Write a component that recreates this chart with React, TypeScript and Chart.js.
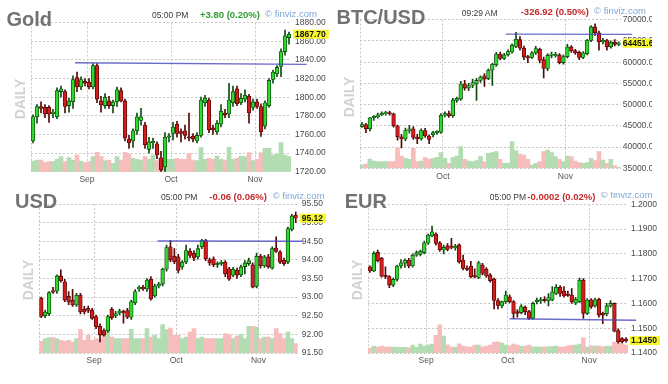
import React, { useEffect, useRef } from 'react';
import { Chart, registerables } from 'chart.js';

Chart.register(...registerables);

const FONT = "'Liberation Sans', Arial, Helvetica, sans-serif";
Chart.defaults.font.family = FONT;

// ---------------- Gold (daily OHLC, volume) ----------------
const goldOHLC: number[][] = [
  [1753, 1781, 1751, 1779], [1779, 1792, 1772, 1790], [1790, 1795, 1783, 1788], [1789, 1792, 1778, 1782],
  [1789, 1791, 1773, 1782], [1782, 1787, 1778, 1784], [1779, 1810, 1777, 1807], [1806, 1812, 1800, 1809],
  [1806, 1808, 1783, 1790], [1791, 1799, 1784, 1796], [1795, 1823, 1788, 1819], [1821, 1827, 1806, 1811],
  [1811, 1822, 1808, 1819], [1817, 1820, 1812, 1815], [1816, 1820, 1809, 1811], [1811, 1836, 1809, 1834],
  [1834, 1836, 1794, 1798], [1796, 1801, 1784, 1792], [1791, 1804, 1788, 1800], [1796, 1801, 1788, 1791],
  [1791, 1797, 1783, 1795], [1795, 1811, 1790, 1808], [1807, 1810, 1795, 1796], [1796, 1798, 1753, 1756],
  [1755, 1759, 1745, 1751], [1753, 1766, 1746, 1764], [1764, 1783, 1760, 1779], [1775, 1788, 1770, 1779],
  [1770, 1773, 1745, 1749], [1744, 1757, 1740, 1752], [1751, 1756, 1745, 1752], [1750, 1752, 1734, 1738],
  [1735, 1742, 1720, 1722], [1725, 1762, 1720, 1757], [1757, 1761, 1752, 1758], [1761, 1773, 1754, 1768],
  [1771, 1774, 1757, 1761], [1763, 1766, 1752, 1761], [1764, 1770, 1755, 1759], [1757, 1783, 1753, 1756],
  [1758, 1761, 1752, 1755], [1753, 1762, 1751, 1759], [1759, 1800, 1757, 1797], [1794, 1802, 1790, 1799],
  [1797, 1799, 1762, 1765], [1767, 1770, 1760, 1765], [1763, 1775, 1760, 1772], [1771, 1792, 1768, 1785],
  [1783, 1787, 1778, 1781], [1782, 1815, 1778, 1797], [1794, 1812, 1790, 1806], [1809, 1812, 1791, 1793],
  [1794, 1804, 1792, 1799], [1798, 1808, 1795, 1802], [1801, 1803, 1772, 1783], [1789, 1798, 1786, 1795],
  [1795, 1798, 1788, 1790], [1790, 1793, 1758, 1763], [1769, 1796, 1766, 1794], [1791, 1820, 1789, 1818],
  [1819, 1829, 1815, 1827], [1825, 1834, 1822, 1832], [1833, 1852, 1822, 1849], [1849, 1872, 1845, 1866],
  [1864, 1870, 1857, 1867.7],
];
const goldVolume = [
  107, 117, 117, 90, 100, 100, 123, 150, 100, 140, 117, 167, 107, 90, 100, 150, 193, 150, 110, 117,
  83, 150, 117, 193, 177, 133, 123, 117, 150, 123, 167, 110, 133, 123, 123, 123, 133, 123, 123, 183,
  117, 110, 240, 123, 133, 123, 157, 123, 117, 243, 123, 133, 157, 150, 190, 110, 123, 190, 233, 233,
  167, 177, 290, 167, 150,
];
const goldMonths = [{ index: 14, label: 'Sep' }, { index: 35, label: 'Oct' }, { index: 56, label: 'Nov' }];
const goldAxis = { min: 1720, max: 1880, step: 20, decimals: 2 };
const goldLevel = { fromIndex: 10.5, toIndex: 68.4, fromValue: 1837, toValue: 1835.3 };
const goldLast = 1867.7;

// ---------------- BTC/USD ----------------
const btcOHLC: number[][] = [
  [44800, 45800, 44600, 45300], [45300, 45600, 43400, 44300], [44300, 47000, 43800, 46900], [46900, 47400, 46300, 47100],
  [47100, 48000, 46800, 47600], [47600, 48300, 47400, 47900], [47900, 48400, 47500, 48100], [48100, 48500, 47500, 47800],
  [47800, 48000, 44700, 45000], [45000, 45200, 41600, 42400], [42400, 43000, 39800, 41900], [41900, 44500, 41500, 43900],
  [43900, 45100, 43300, 44300], [44300, 44800, 41800, 42300], [42300, 43000, 40800, 41900], [41900, 44300, 41600, 43900],
  [43900, 44400, 42300, 42600], [42600, 42900, 40800, 41800], [42900, 43700, 42400, 43400], [43400, 43900, 43000, 43700],
  [43500, 47900, 43200, 47500], [47500, 48300, 47100, 47900], [47900, 48500, 47000, 47400], [47400, 51500, 47000, 51100],
  [51000, 51800, 50500, 51500], [51300, 55500, 51000, 54900], [54900, 55700, 53400, 53900], [53900, 55000, 53300, 54500],
  [54500, 56000, 54000, 55200], [54900, 56200, 51000, 55700], [55700, 56800, 55200, 56500], [56800, 57300, 54300, 56000],
  [56100, 58400, 55900, 58100], [58100, 59700, 54500, 59500], [59400, 62300, 59000, 61900], [61900, 62400, 60500, 60900],
  [60900, 62100, 60600, 61700], [61700, 62900, 61400, 62500], [62400, 64300, 62100, 64000], [63700, 67000, 63400, 65400],
  [65300, 66000, 62800, 63300], [63300, 63800, 60600, 61200], [61200, 61600, 59900, 61000], [61100, 62500, 60800, 62200],
  [62200, 63700, 61800, 63200], [63000, 63300, 59800, 60400], [60600, 61200, 56300, 58500], [58500, 62000, 58000, 61600],
  [61600, 62400, 61000, 61800], [61500, 62300, 61200, 61700], [61700, 62000, 59600, 59900], [59900, 61700, 59500, 61300],
  [61300, 64200, 61000, 63600], [63600, 63900, 62300, 62700], [62700, 63000, 61800, 62200], [62300, 62600, 60600, 61100],
  [61100, 62500, 60800, 62200], [62000, 65400, 61700, 65100], [65100, 68600, 64800, 68300], [68300, 69000, 66300, 66900],
  [66900, 67300, 62800, 64800], [64800, 65600, 64300, 65100], [65100, 65400, 62800, 63600], [63600, 65000, 63300, 64700],
  [64700, 65300, 63800, 64200], [64200, 64800, 63900, 64451.6],
];
const btcVolume = [
  33, 43, 93, 73, 67, 67, 67, 67, 67, 207, 123, 100, 90, 200, 67, 73, 107, 90, 100, 110,
  157, 100, 50, 107, 123, 217, 90, 73, 67, 77, 117, 67, 150, 157, 167, 90, 50, 50, 267, 177,
  143, 133, 90, 33, 50, 67, 167, 183, 157, 117, 90, 67, 123, 117, 73, 57, 50, 57, 100, 77,
  167, 83, 50, 90, 27, 10,
];
const btcMonths = [{ index: 21, label: 'Oct' }, { index: 52, label: 'Nov' }];
const btcAxis = { min: 35000, max: 70000, step: 5000, decimals: 2 };
const btcLevel = { fromIndex: 36.4, toIndex: 68.4, fromValue: 66600, toValue: 66550 };
const btcLast = 64451.6;

// ---------------- USD index ----------------
const usdOHLC: number[][] = [
  [92.97, 93.0, 92.45, 92.48], [92.5, 92.65, 92.45, 92.6], [92.55, 93.15, 92.5, 93.12], [93.15, 93.26, 93.1, 93.13],
  [93.16, 93.6, 93.1, 93.57], [93.57, 93.73, 93.4, 93.44], [93.41, 93.48, 92.88, 92.92], [93.02, 93.15, 92.8, 92.87],
  [92.92, 93.21, 92.75, 92.79], [92.79, 93.1, 92.75, 93.05], [93.05, 93.1, 92.55, 92.6], [92.67, 92.75, 92.55, 92.6],
  [92.7, 92.76, 92.58, 92.64], [92.65, 92.7, 92.4, 92.43], [92.48, 92.52, 92.15, 92.2], [92.22, 92.28, 91.8, 91.98],
  [92.1, 92.15, 91.95, 91.98], [92.1, 92.52, 92.05, 92.48], [92.67, 92.72, 92.4, 92.45], [92.5, 92.62, 92.45, 92.56],
  [92.57, 92.68, 92.52, 92.63], [92.61, 92.65, 92.3, 92.58], [92.64, 92.7, 92.42, 92.46], [92.46, 92.92, 92.4, 92.88],
  [92.85, 93.2, 92.8, 93.15], [93.22, 93.3, 93.15, 93.27], [93.27, 93.32, 93.18, 93.22], [93.22, 93.5, 93.15, 93.46],
  [93.48, 93.55, 92.92, 92.95], [93.03, 93.35, 93.0, 93.3], [93.3, 93.4, 93.25, 93.35], [93.35, 93.78, 93.3, 93.75],
  [93.75, 94.4, 93.7, 94.33], [94.35, 94.52, 93.95, 94.0], [94.1, 94.3, 93.9, 93.95], [94.08, 94.15, 93.65, 93.72],
  [93.81, 93.98, 93.75, 93.94], [93.94, 94.4, 93.9, 94.25], [94.23, 94.3, 94.05, 94.12], [94.18, 94.25, 93.98, 94.05],
  [94.08, 94.4, 94.02, 94.3], [94.35, 94.55, 94.3, 94.52], [94.52, 94.55, 93.98, 94.03], [94.0, 94.05, 93.85, 93.92],
  [94.03, 94.08, 93.82, 93.87], [93.87, 93.95, 93.8, 93.9], [93.9, 93.98, 93.85, 93.94], [93.94, 93.98, 93.55, 93.63],
  [93.76, 93.8, 93.45, 93.48], [93.59, 93.8, 93.55, 93.75], [93.72, 93.78, 93.5, 93.59], [93.6, 93.86, 93.55, 93.81],
  [93.82, 93.98, 93.62, 93.92], [93.9, 94.05, 93.85, 93.98], [93.87, 93.92, 93.25, 93.27], [93.29, 94.18, 93.25, 94.1],
  [94.1, 94.15, 93.78, 93.84], [93.84, 94.12, 93.8, 94.08], [94.08, 94.15, 93.78, 93.82], [93.78, 94.35, 93.75, 94.3],
  [94.32, 94.62, 94.2, 94.23], [94.21, 94.25, 93.9, 93.94], [93.99, 94.05, 93.85, 93.9], [93.94, 94.88, 93.9, 94.84],
  [94.82, 95.22, 94.78, 95.18], [95.2, 95.28, 95.0, 95.12],
];
const usdVolume = [
  117, 143, 153, 153, 143, 127, 117, 127, 110, 143, 233, 127, 177, 127, 143, 137, 217, 243, 160, 143,
  143, 143, 143, 237, 143, 143, 143, 243, 160, 177, 143, 283, 233, 250, 177, 177, 143, 160, 210, 243,
  143, 160, 143, 143, 143, 143, 143, 193, 183, 143, 170, 183, 143, 267, 267, 260, 143, 160, 160, 143,
  243, 193, 143, 210, 143, 93,
];
const usdMonths = [{ index: 14, label: 'Sep' }, { index: 35, label: 'Oct' }, { index: 56, label: 'Nov' }];
const usdAxis = { min: 91.5, max: 95.5, step: 0.5, decimals: 2 };
const usdLevel = { fromIndex: 29.7, toIndex: 66.8, fromValue: 94.507, toValue: 94.498 };
const usdLast = 95.12;

// ---------------- EUR ----------------
const eurOHLC: number[][] = [
  [1.1748, 1.1752, 1.1725, 1.1731], [1.1731, 1.1809, 1.1728, 1.1802], [1.1806, 1.1815, 1.1768, 1.1772], [1.1782, 1.1786, 1.1706, 1.171],
  [1.1713, 1.1748, 1.17, 1.1708], [1.1708, 1.1712, 1.1664, 1.1674], [1.1674, 1.1702, 1.1668, 1.1697], [1.1697, 1.1755, 1.169, 1.1751],
  [1.1751, 1.1777, 1.1742, 1.1764], [1.1762, 1.178, 1.1745, 1.1775], [1.1775, 1.1782, 1.1743, 1.1751], [1.1751, 1.18, 1.1746, 1.1795],
  [1.1795, 1.1812, 1.179, 1.1805], [1.1798, 1.1815, 1.1792, 1.1811], [1.1805, 1.1852, 1.18, 1.1845], [1.1843, 1.188, 1.1838, 1.1876],
  [1.1872, 1.1912, 1.1868, 1.1889], [1.188, 1.1885, 1.1835, 1.1842], [1.1845, 1.185, 1.181, 1.1816], [1.1816, 1.1835, 1.18, 1.1826],
  [1.1832, 1.1842, 1.1812, 1.1818], [1.1832, 1.1863, 1.182, 1.1826], [1.1824, 1.1838, 1.1815, 1.183], [1.1836, 1.184, 1.1762, 1.1768],
  [1.1775, 1.1795, 1.1735, 1.1741], [1.1741, 1.1752, 1.1732, 1.1737], [1.1751, 1.177, 1.1703, 1.1708], [1.171, 1.174, 1.1703, 1.1707],
  [1.1705, 1.177, 1.17, 1.1764], [1.1755, 1.1762, 1.1715, 1.1721], [1.1738, 1.1745, 1.1705, 1.1711], [1.1715, 1.172, 1.1686, 1.1692],
  [1.1698, 1.1702, 1.1578, 1.1612], [1.1612, 1.162, 1.1578, 1.1592], [1.159, 1.161, 1.1582, 1.1607], [1.1607, 1.165, 1.16, 1.1634],
  [1.1627, 1.1635, 1.1602, 1.1607], [1.1607, 1.1612, 1.154, 1.156], [1.1567, 1.1575, 1.1545, 1.156], [1.1563, 1.1595, 1.1558, 1.1587],
  [1.1584, 1.159, 1.1555, 1.1567], [1.1567, 1.1572, 1.1535, 1.154], [1.154, 1.1605, 1.1536, 1.16], [1.1607, 1.1622, 1.1598, 1.1612],
  [1.161, 1.1625, 1.16, 1.1615], [1.1615, 1.1628, 1.1605, 1.1611], [1.1611, 1.164, 1.159, 1.1624], [1.1614, 1.1668, 1.161, 1.1647],
  [1.164, 1.1676, 1.1635, 1.1665], [1.1665, 1.1672, 1.1628, 1.164], [1.165, 1.1668, 1.1625, 1.163], [1.1638, 1.165, 1.1628, 1.1632],
  [1.1634, 1.166, 1.16, 1.1607], [1.1602, 1.1625, 1.1595, 1.1617], [1.1607, 1.1702, 1.1603, 1.1694], [1.1694, 1.17, 1.154, 1.156],
  [1.156, 1.162, 1.1555, 1.1614], [1.1615, 1.162, 1.158, 1.1586], [1.159, 1.1622, 1.1585, 1.1615], [1.1617, 1.1622, 1.1545, 1.1553],
  [1.156, 1.1565, 1.1518, 1.1553], [1.1558, 1.16, 1.155, 1.159], [1.159, 1.1612, 1.1585, 1.16], [1.16, 1.1602, 1.1485, 1.1488],
  [1.149, 1.1498, 1.144, 1.1445], [1.1458, 1.1462, 1.144, 1.1446], [1.1456, 1.1462, 1.1444, 1.145],
];
const eurVolume = [
  50, 70, 60, 70, 60, 60, 60, 57, 57, 57, 53, 80, 57, 90, 70, 80, 90, 177, 283, 170,
  83, 60, 60, 93, 70, 63, 60, 80, 80, 63, 70, 80, 110, 113, 100, 80, 73, 90, 80, 67,
  70, 80, 63, 63, 60, 63, 63, 67, 70, 60, 63, 73, 77, 80, 90, 153, 60, 73, 70, 73,
  63, 67, 70, 110, 100, 90, 80,
];
const eurMonths = [{ index: 15, label: 'Sep' }, { index: 36, label: 'Oct' }, { index: 57, label: 'Nov' }];
const eurAxis = { min: 1.14, max: 1.2, step: 0.01, decimals: 4 };
const eurLevel = { fromIndex: 36.0, toIndex: 68.6, fromValue: 1.15383, toValue: 1.15319 };
const eurLast = 1.145;

// ---------------- styles ----------------
const UP_FILL = '#2fd82f';
const UP_EDGE = '#114a11';
const DN_FILL = '#d41c1c';
const DN_EDGE = '#560808';
const VOL_UP = '#b2ddb2';
const VOL_DN = '#f7bdbd';
const GRID = '#c6c6c6';
const LEVEL = 'rgba(70, 70, 190, 0.8)';
const VOLUME_SCALE_MAX = 1490;

interface Level { fromIndex: number; toIndex: number; fromValue: number; toValue: number }
interface Panel {
  title: string; time: string; change: string; changeColor: string;
  ohlc: number[][]; volume: number[]; months: { index: number; label: string }[];
  axis: { min: number; max: number; step: number; decimals: number };
  level: Level; last: number;
  frame: { left: number; top: number; width: number; height: number };
  area: { left: number; right: number; top: number; bottom: number };
  labelPad: number;
  pos: { title: number[]; daily: number[]; time: number[]; change: number[]; site: number[] };
}

const panels: Panel[] = [
  {
    title: 'Gold', time: '05:00 PM', change: '+3.80 (0.20%)', changeColor: '#2e9d2e',
    ohlc: goldOHLC, volume: goldVolume, months: goldMonths, axis: goldAxis, level: goldLevel, last: goldLast,
    frame: { left: 0, top: 0, width: 334, height: 192 },
    area: { left: 31, right: 291, top: 22.7, bottom: 171.7 }, labelPad: 4,
    pos: { title: [6.5, 18.85], daily: [20, 99.2], time: [152, 14.7], change: [200, 14.7], site: [265, 13.5] },
  },
  {
    title: 'BTC/USD', time: '09:29 AM', change: '-326.92 (0.50%)', changeColor: '#c22a2a',
    ohlc: btcOHLC, volume: btcVolume, months: btcMonths, axis: btcAxis, level: btcLevel, last: btcLast,
    frame: { left: 334, top: 0, width: 318, height: 192 },
    area: { left: 26, right: 286.7, top: 19.7, bottom: 168.3 }, labelPad: 2,
    pos: { title: [2.5, 17], daily: [15, 97], time: [127.7, 13.3], change: [186.7, 11.7], site: [260, 11] },
  },
  {
    title: 'USD', time: '05:00 PM', change: '-0.06 (0.06%)', changeColor: '#c22a2a',
    ohlc: usdOHLC, volume: usdVolume, months: usdMonths, axis: usdAxis, level: usdLevel, last: usdLast,
    frame: { left: 0, top: 192, width: 334, height: 192 },
    area: { left: 39.3, right: 297.7, top: 12, bottom: 161 }, labelPad: 4,
    pos: { title: [15, 8.85], daily: [28.3, 88.3], time: [161, 5], change: [209.3, 5], site: [272.7, 3.3] },
  },
  {
    title: 'EUR', time: '05:00 PM', change: '-0.0002 (0.02%)', changeColor: '#c22a2a',
    ohlc: eurOHLC, volume: eurVolume, months: eurMonths, axis: eurAxis, level: eurLevel, last: eurLast,
    frame: { left: 334, top: 192, width: 334, height: 192 },
    area: { left: 34, right: 294, top: 12.3, bottom: 161 }, labelPad: 3,
    pos: { title: [10.7, 8.7], daily: [22.8, 88.3], time: [155.7, 5], change: [193.3, 5], site: [266.7, 3] },
  },
];

const overlayPlugin = {
  id: 'overlay',
  afterDatasetsDraw(chart: any, _args: any, opts: any) {
    const { ctx, scales } = chart;
    const x = scales.x;
    const y = scales.y;
    ctx.save();
    ctx.strokeStyle = LEVEL;
    ctx.lineWidth = 1.4;
    ctx.beginPath();
    ctx.moveTo(x.getPixelForValue(opts.fromIndex), y.getPixelForValue(opts.fromValue));
    ctx.lineTo(x.getPixelForValue(opts.toIndex), y.getPixelForValue(opts.toValue));
    ctx.stroke();
    ctx.restore();
  },
  afterDraw(chart: any, _args: any, opts: any) {
    const { ctx, chartArea, scales } = chart;
    const yPix = scales.y.getPixelForValue(opts.last);
    const text = Number(opts.last).toFixed(opts.decimals);
    ctx.save();
    ctx.font = `bold 8.5px ${FONT}`;
    const w = ctx.measureText(text).width;
    const bx = chartArea.right + 2;
    ctx.fillStyle = '#f8f82c';
    ctx.fillRect(bx, yPix - 4.5, w + opts.labelPad + 1, 9);
    ctx.fillStyle = '#111111';
    ctx.textBaseline = 'middle';
    ctx.textAlign = 'left';
    ctx.fillText(text, chartArea.right + opts.labelPad, yPix + 0.5);
    ctx.restore();
  },
};

function buildChart(canvas: HTMLCanvasElement, p: Panel) {
  const up = p.ohlc.map((d) => d[3] >= d[0]);
  const labels = p.ohlc.map((_, i) => String(i));
  const monthAt = new Map<number, string>(p.months.map((m) => [m.index, m.label]));
  const yWidth = p.frame.width - p.area.right;
  const xHeight = p.frame.height - p.area.bottom;
  const tickFont = { size: 8.5, family: FONT };
  return new Chart(canvas, {
    type: 'bar',
    data: {
      labels,
      datasets: [
        {
          label: 'body',
          data: p.ohlc.map((d) => [d[0], d[3]]) as any,
          backgroundColor: up.map((u) => (u ? UP_FILL : DN_FILL)),
          borderColor: up.map((u) => (u ? UP_EDGE : DN_EDGE)),
          borderWidth: 0.85,
          borderSkipped: false,
          barThickness: 3.7,
          minBarLength: 1.4,
          grouped: false,
          order: 0,
          yAxisID: 'y',
        } as any,
        {
          label: 'wick',
          data: p.ohlc.map((d) => [d[2], d[1]]) as any,
          backgroundColor: up.map((u) => (u ? UP_EDGE : DN_EDGE)),
          borderWidth: 0,
          barThickness: 1,
          grouped: false,
          order: 1,
          yAxisID: 'y',
        } as any,
        {
          label: 'volume',
          data: p.volume,
          backgroundColor: up.map((u) => (u ? VOL_UP : VOL_DN)),
          borderWidth: 0,
          barPercentage: 1,
          categoryPercentage: 1,
          grouped: false,
          order: 2,
          yAxisID: 'yv',
        } as any,
      ],
    },
    options: {
      animation: false,
      responsive: false,
      maintainAspectRatio: false,
      layout: { padding: { left: p.area.left, top: p.area.top, right: 0, bottom: 0 } },
      plugins: {
        legend: { display: false },
        tooltip: { enabled: false },
        overlay: { ...p.level, last: p.last, decimals: p.axis.decimals, labelPad: p.labelPad },
      } as any,
      scales: {
        x: {
          type: 'category',
          offset: true,
          grid: {
            offset: true,
            drawTicks: false,
            lineWidth: 1,
            color: (ctx: any) => (ctx.index === 0 || monthAt.has(ctx.index) ? GRID : 'rgba(0,0,0,0)'),
          },
          border: { display: false, dash: [2, 2] },
          ticks: {
            autoSkip: false,
            maxRotation: 0,
            minRotation: 0,
            padding: 3,
            labelOffset: -2,
            color: '#555555',
            font: tickFont,
            callback: (_v: any, i: number) => monthAt.get(i) ?? '',
          },
          afterFit: (s: any) => { s.height = xHeight; },
        },
        y: {
          position: 'right',
          min: p.axis.min,
          max: p.axis.max,
          grid: { color: GRID, drawTicks: false, lineWidth: 1 },
          border: { display: false, dash: [2, 2] },
          ticks: {
            stepSize: p.axis.step,
            autoSkip: false,
            padding: p.labelPad,
            color: '#4a4a4a',
            font: tickFont,
            callback: (v: any) => Number(v).toFixed(p.axis.decimals),
          },
          afterFit: (s: any) => { s.width = yWidth; },
        },
        yv: { display: false, min: 0, max: VOLUME_SCALE_MAX },
      },
    } as any,
    plugins: [overlayPlugin as any],
  });
}

function Txt(props: { x: number; y: number; size: number; weight?: number | string; color: string; children: React.ReactNode }) {
  const { x, y, size, weight, color, children } = props;
  return (
    <span
      style={{
        position: 'absolute', left: x, top: y - 0.4885 * size, fontSize: size, lineHeight: `${size}px`,
        fontWeight: weight ?? 'normal', color, whiteSpace: 'nowrap', fontFamily: FONT,
      }}
    >
      {children}
    </span>
  );
}

function PanelView({ p }: { p: Panel }) {
  const ref = useRef<HTMLCanvasElement>(null);
  useEffect(() => {
    if (!ref.current) return;
    const chart = buildChart(ref.current, p);
    return () => chart.destroy();
  }, [p]);
  const { frame, pos } = p;
  return (
    <div style={{ position: 'absolute', left: frame.left, top: frame.top, width: frame.width, height: frame.height, overflow: 'hidden' }}>
      <canvas
        ref={ref}
        width={frame.width}
        height={frame.height}
        style={{ position: 'absolute', left: 0, top: 0, width: frame.width, height: frame.height }}
      />
      <Txt x={pos.title[0]} y={pos.title[1]} size={20} weight="bold" color="#727272">{p.title}</Txt>
      <div
        style={{
          position: 'absolute', left: pos.daily[0], top: pos.daily[1], fontSize: 14, lineHeight: '14px',
          fontWeight: 'bold', color: '#d2d2d2', fontFamily: FONT, whiteSpace: 'nowrap',
          transform: 'translate(-50%, -50%) rotate(-90deg)',
        }}
      >
        DAILY
      </div>
      <Txt x={pos.time[0]} y={pos.time[1]} size={8.5} color="#3a3a3a">{p.time}</Txt>
      <Txt x={pos.change[0]} y={pos.change[1]} size={9.5} weight="bold" color={p.changeColor}>{p.change}</Txt>
      <Txt x={pos.site[0]} y={pos.site[1]} size={9.5} color="#7fa7d7">© finviz.com</Txt>
    </div>
  );
}

export default function App() {
  return (
    <div style={{ position: 'fixed', left: 0, top: 0, width: 668, height: 384, background: '#ffffff', overflow: 'hidden' }}>
      {panels.map((p) => (
        <PanelView key={p.title} p={p} />
      ))}
    </div>
  );
}
